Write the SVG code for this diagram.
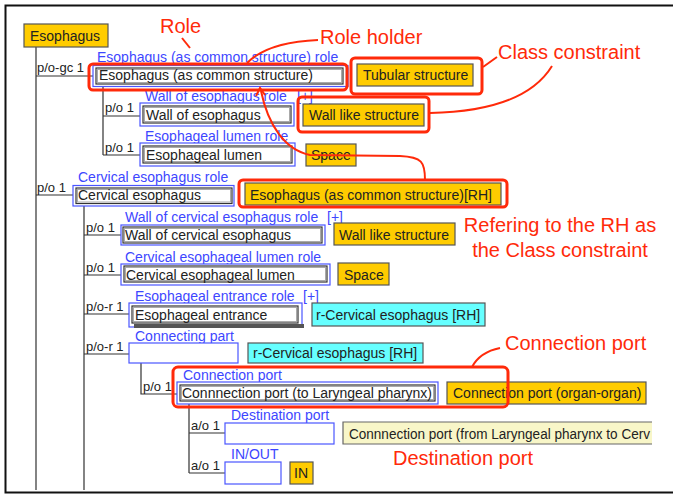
<svg xmlns="http://www.w3.org/2000/svg" width="673" height="496" viewBox="0 0 673 496">
<style>
text{font-family:"Liberation Sans",Arial,sans-serif}
.lbl{font-size:14px;fill:#3d46ff}
.txt{font-size:14px;fill:#222}
.edge{font-size:13px;fill:#222}
.ann{font-size:20px;fill:#ff2a0a}
.role{fill:#fff;stroke:#4a55ff;stroke-width:1.2}
.holder{fill:#fff;stroke:#333;stroke-width:1.2}
.hin{fill:none;stroke:#aaa;stroke-width:1}
.gold{fill:#ffcc00;stroke:#555;stroke-width:1.2}
.cyan{fill:#66ffff;stroke:#555;stroke-width:1.2}
.pale{fill:#f8f6c8;stroke:#666;stroke-width:1.2}
.tree{stroke:#333;stroke-width:1.2;fill:none}
.hl{fill:none;stroke:#ff2a0a;stroke-width:3}
.red{fill:none;stroke:#ff2a0a;stroke-width:2}
</style>
<rect x="0" y="0" width="673" height="496" fill="#fff"/>
<rect x="5.5" y="5.5" width="720" height="487" fill="none" stroke="#111" stroke-width="2"/>

<g id="connectors">
<path class="tree" d="M36 47V490M36 76H93M103 86V155M103 116H140M103 155H140M36 195H73M84 206V490M84 235H121M84 275H121M84 314H129M84 354H129M141 363V394H177M189 404V473M189 433H225M189 473H225"/>
<text class="edge" x="37" y="72">p/o-gc 1</text>
<text class="edge" x="105" y="112">p/o 1</text>
<text class="edge" x="105" y="152">p/o 1</text>
<text class="edge" x="37" y="192">p/o 1</text>
<text class="edge" x="86" y="232">p/o 1</text>
<text class="edge" x="86" y="272">p/o 1</text>
<text class="edge" x="86" y="311">p/o-r 1</text>
<text class="edge" x="86" y="351">p/o-r 1</text>
<text class="edge" x="143" y="391">p/o 1</text>
<text class="edge" x="191" y="430">a/o 1</text>
<text class="edge" x="191" y="470">a/o 1</text>
</g>

<g id="esophagus">
<rect class="gold" x="24" y="24" width="84" height="23"/>
<text class="txt" x="30" y="41">Esophagus</text>
</g>

<g id="common-structure">
<text class="lbl" x="97" y="62">Esophagus (as common structure) role</text>
<rect class="role" x="93" y="65.5" width="255" height="21"/>
<rect class="holder" x="96" y="68" width="247" height="16"/>
<rect class="hin" x="97.5" y="69.5" width="244" height="13"/>
<text class="txt" x="99" y="80">Esophagus (as common structure)</text>
</g>
<g id="tubular"><rect class="gold" x="357" y="64" width="116" height="22"/><text class="txt" x="363" y="80">Tubular structure</text></g>

<g id="wall-esophagus">
<text class="lbl" x="145" y="101">Wall of esophagus role</text>
<text class="lbl" x="297" y="101">[+]</text>
<rect class="role" x="140" y="103" width="154" height="23"/>
<rect class="holder" x="143" y="106" width="148" height="17"/>
<rect class="hin" x="144.5" y="107.5" width="145" height="14"/>
<text class="txt" x="146" y="120">Wall of esophagus</text>
</g>
<g id="wall-like-1"><rect class="gold" x="303" y="104" width="121" height="22"/><text class="txt" x="309" y="120">Wall like structure</text></g>

<g id="esophageal-lumen">
<text class="lbl" x="145" y="141">Esophageal lumen role</text>
<rect class="role" x="140" y="143" width="155" height="23"/>
<rect class="holder" x="143" y="146" width="149" height="17"/>
<rect class="hin" x="144.5" y="147.5" width="146" height="14"/>
<text class="txt" x="146" y="160">Esophageal lumen</text>
</g>
<g id="space-1"><rect class="gold" x="306" y="144" width="50" height="22"/><text class="txt" x="311" y="160">Space</text></g>

<g id="cervical-esophagus">
<text class="lbl" x="78" y="182">Cervical esophagus role</text>
<rect class="role" x="73" y="185.5" width="161" height="20.5"/>
<rect class="holder" x="76" y="188" width="156" height="15.5"/>
<rect class="hin" x="77.5" y="189.5" width="153" height="12.5"/>
<text class="txt" x="78" y="200">Cervical esophagus</text>
</g>
<g id="rh-constraint"><rect class="gold" x="245" y="183" width="256" height="22"/><text class="txt" x="250" y="200">Esophagus (as common structure)[RH]</text></g>

<g id="wall-cervical">
<text class="lbl" x="125" y="222">Wall of cervical esophagus role</text>
<text class="lbl" x="327" y="222">[+]</text>
<rect class="role" x="121" y="225" width="204" height="20"/>
<rect class="holder" x="123" y="227" width="199" height="16"/>
<rect class="hin" x="124.5" y="228.5" width="196" height="13"/>
<text class="txt" x="125" y="240">Wall of cervical esophagus</text>
</g>
<g id="wall-like-2"><rect class="gold" x="334" y="223" width="121" height="22"/><text class="txt" x="339" y="240">Wall like structure</text></g>

<g id="cervical-lumen">
<text class="lbl" x="125" y="262">Cervical esophageal lumen role</text>
<rect class="role" x="121" y="264" width="209" height="21"/>
<rect class="holder" x="124" y="266" width="203" height="16"/>
<rect class="hin" x="125.5" y="267.5" width="200" height="13"/>
<text class="txt" x="126" y="280">Cervical esophageal lumen</text>
</g>
<g id="space-2"><rect class="gold" x="338" y="263" width="51" height="22"/><text class="txt" x="344" y="280">Space</text></g>

<g id="esophageal-entrance">
<text class="lbl" x="135" y="301">Esophageal entrance role</text>
<text class="lbl" x="303" y="301">[+]</text>
<rect class="role" x="129" y="303" width="173" height="24"/>
<rect x="134" y="324" width="170" height="4" fill="#555"/>
<rect class="holder" x="132" y="306" width="166" height="17"/>
<rect class="hin" x="133.5" y="307.5" width="163" height="14"/>
<text class="txt" x="135" y="320">Esophageal entrance</text>
</g>
<g id="r-cervical-1"><rect class="cyan" x="312" y="303" width="173" height="23"/><text class="txt" x="316" y="320">r-Cervical esophagus [RH]</text></g>

<g id="connecting-part">
<text class="lbl" x="135" y="341">Connecting part</text>
<rect class="role" x="129" y="343" width="109" height="20"/>
</g>
<g id="r-cervical-2"><rect class="cyan" x="248" y="343" width="175" height="20"/><text class="txt" x="253" y="358">r-Cervical esophagus [RH]</text></g>

<g id="connection-port">
<text class="lbl" x="183" y="380">Connection port</text>
<rect class="role" x="177" y="382" width="261" height="22"/>
<rect class="holder" x="180" y="385" width="255" height="16"/>
<rect class="hin" x="181.5" y="386.5" width="252" height="13"/>
<text class="txt" x="182" y="398" textLength="250">Connnection port (to Laryngeal pharynx)</text>
</g>
<g id="organ-organ"><rect class="gold" x="447" y="382" width="199" height="22"/><text class="txt" x="453" y="398">Connection port (organ-organ)</text></g>

<g id="destination-port">
<text class="lbl" x="231" y="420">Destination port</text>
<rect class="role" x="225" y="423" width="109" height="21"/>
</g>
<g id="from-laryngeal">
<path d="M652 422H343V444H652Z" fill="#f8f6c8"/>
<path d="M652 422H343V444H652" fill="none" stroke="#666" stroke-width="1.2"/>
<text class="txt" x="349" y="439" textLength="301" lengthAdjust="spacingAndGlyphs">Connnection port (from Laryngeal pharynx to Cerv</text>
</g>

<g id="in-out">
<text class="lbl" x="231" y="459">IN/OUT</text>
<rect class="role" x="225" y="462" width="56" height="22"/>
</g>
<g id="in"><rect class="gold" x="290" y="462" width="23" height="22"/><text class="txt" x="294" y="478">IN</text></g>

<g id="annotations">
<rect class="hl" x="89" y="64" width="258" height="26" rx="4"/>
<rect class="hl" x="351" y="58" width="131" height="36" rx="4"/>
<rect class="hl" x="298" y="97" width="131" height="35" rx="4"/>
<rect class="hl" x="239" y="180" width="268" height="27" rx="4"/>
<rect class="hl" x="173" y="367" width="335" height="40" rx="5"/>
<path class="red" d="M182 38L190 48"/>
<path class="red" d="M318 40Q268 42 247 63"/>
<path class="red" d="M497 57L483 67"/>
<path class="red" d="M552 66C530 102 480 112 430 113"/>
<path class="red" d="M500 348Q480 352 472 367"/>
<path class="red" d="M425 180C425 162 422 157 400 156L310 155C285 150 268 125 261 91"/>
<path class="red" d="M256 96L260 88L265 95"/>
<text class="ann" x="160" y="33">Role</text>
<text class="ann" x="320" y="44">Role holder</text>
<text class="ann" x="498" y="59">Class constraint</text>
<text class="ann" x="560" y="232" text-anchor="middle">Refering to the RH as</text>
<text class="ann" x="560" y="257" text-anchor="middle">the Class constraint</text>
<text class="ann" x="505" y="350">Connection port</text>
<text class="ann" x="393" y="465">Destination port</text>
</g>
</svg>
